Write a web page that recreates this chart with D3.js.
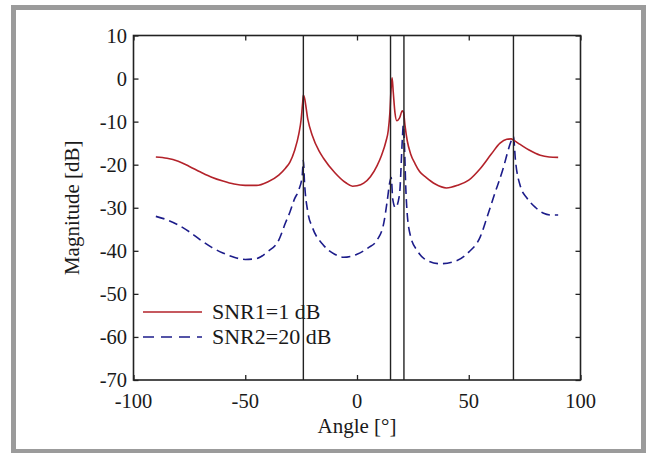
<!DOCTYPE html>
<html>
<head>
<meta charset="utf-8">
<script src="https://cdn.jsdelivr.net/npm/d3@7"></script>
<style>
  body { margin: 0; background: #fff; }
  svg text { font-family: "Liberation Serif", "Times New Roman", serif; fill: #1a1a1a; }
</style>
</head>
<body>
<div id="container"></div>
<script>
// spectrum: [angle, dB]
var snr1 = [[-90,-18.2],[-85,-18.5],[-80,-19.2],[-75,-20.4],[-70,-21.7],[-65,-22.9],[-60,-23.8],[-55,-24.5],
  [-50,-24.8],[-45,-24.8],[-40,-24.0],[-35,-22.4],[-32,-20.8],[-30,-19.4],[-28,-16.8],[-26,-12.8],[-25,-9.5],
  [-24.3,-5.5],[-24,-3.8],[-23.5,-4.5],[-22,-9.5],[-20,-13.2],[-17,-16.8],[-15,-18.5],[-10,-21.8],[-5,-24.2],
  [-2,-25.0],[0,-24.9],[3,-24.3],[6,-22.8],[9,-20.2],[11,-17.8],[13,-14.5],[14,-12],[14.7,-8],[15.3,-2],
  [15.7,0.2],[16.2,-3],[17,-8],[17.8,-9.8],[19,-9.2],[20.3,-7.5],[20.8,-7.8],[21.5,-11],[22.5,-14.5],
  [24,-17.5],[26,-19.8],[28,-21.6],[31,-23],[35,-24.5],[40,-25.4],[45,-24.8],[50,-23.6],[55,-21],[60,-17.6],
  [64,-15],[67,-14.1],[69,-14],[70,-14.3],[73,-15.3],[77,-16.6],[82,-17.8],[86,-18.2],[90,-18.3]];

var snr2 = [[-90,-32],[-85,-32.8],[-80,-34],[-75,-35.6],[-70,-37.5],[-65,-39.2],[-60,-40.5],[-55,-41.5],
  [-50,-42],[-45,-41.8],[-40,-40.2],[-35,-37.5],[-32,-33.5],[-30,-31],[-28,-28],[-26,-25.8],[-24.5,-22.5],
  [-24,-19],[-23.5,-24],[-22,-31],[-20,-34.5],[-15,-38.7],[-10,-40.8],[-6,-41.5],[0,-40.8],[5,-39.3],
  [9,-37.5],[12,-33.5],[13.5,-28.5],[14.7,-24],[15.3,-23],[16,-28],[17.2,-30],[19,-27],[20.3,-14],[20.7,-10.8],
  [21.2,-15],[21.8,-25],[22.4,-31],[24,-36.7],[27,-40],[30,-41.8],[37,-43],[45,-42.2],[50,-40.3],
  [55.2,-36.7],[58,-32.5],[61.2,-27.4],[65.6,-20.5],[68,-16],[69.4,-14],[70,-13.5],[70.9,-19],[73.1,-25],
  [76.1,-27.8],[80,-30],[83.5,-31.3],[87,-31.7],[90,-31.7]];

var doaLines = [-24, 15, 21, 70];
var xTicks = [-100, -50, 0, 50, 100];
var yTicks = [10, 0, -10, -20, -30, -40, -50, -60, -70];
var legendLabels = ["SNR1=1 dB", "SNR2=20 dB"];

var w = 646, h = 453;
var svg = d3.select("div#container").append("svg")
  .attr("width", w).attr("height", h);

// gray frame around the figure
svg.append("rect")
  .attr("x", 13.5).attr("y", 7.5)
  .attr("width", 630).attr("height", 444)
  .attr("fill", "none").attr("stroke", "#9b9b9b").attr("stroke-width", 5);

var x = d3.scaleLinear().domain([-100, 100]).range([133.5, 580.5]);
var y = d3.scaleLinear().domain([-70, 10]).range([380, 35.5]);

// tick marks pointing inward on all four sides
var g = svg.append("g");
g.append("g").attr("transform", "translate(0," + y(-70) + ")")
  .call(d3.axisTop(x).tickValues(xTicks).tickSize(5).tickFormat(""));
g.append("g").attr("transform", "translate(0," + y(10) + ")")
  .call(d3.axisBottom(x).tickValues(xTicks).tickSize(5).tickFormat(""));
g.append("g").attr("transform", "translate(" + x(-100) + ",0)")
  .call(d3.axisRight(y).tickValues(yTicks).tickSize(5).tickFormat(""));
g.append("g").attr("transform", "translate(" + x(100) + ",0)")
  .call(d3.axisLeft(y).tickValues(yTicks).tickSize(5).tickFormat(""));
g.selectAll(".domain").remove();
g.selectAll("line").attr("stroke", "#222").attr("stroke-width", 1.3);

// tick labels
svg.append("g").selectAll("text").data(xTicks).enter().append("text")
  .attr("x", function(d) { return x(d); })
  .attr("y", 408)
  .attr("text-anchor", "middle")
  .attr("font-size", 20.5)
  .text(function(d) { return d; });

svg.append("g").selectAll("text").data(yTicks).enter().append("text")
  .attr("x", 127)
  .attr("y", function(d) { return y(d) + 7; })
  .attr("text-anchor", "end")
  .attr("font-size", 20.5)
  .text(function(d) { return d; });

svg.append("text")
  .attr("x", x(0)).attr("y", 433)
  .attr("text-anchor", "middle").attr("font-size", 21)
  .text("Angle [°]");

svg.append("text")
  .attr("transform", "translate(79," + ((y(10) + y(-70)) / 2) + ") rotate(-90)")
  .attr("text-anchor", "middle").attr("font-size", 21)
  .text("Magnitude [dB]");

// spectra
var line = d3.line()
  .x(function(d) { return x(d[0]); })
  .y(function(d) { return y(d[1]); })
  .curve(d3.curveMonotoneX);

svg.append("path").datum(snr2)
  .attr("d", line).attr("fill", "none")
  .attr("stroke", "#1c1c8a").attr("stroke-width", 1.6)
  .attr("stroke-dasharray", "9,5");

svg.append("path").datum(snr1)
  .attr("d", line).attr("fill", "none")
  .attr("stroke", "#b3222a").attr("stroke-width", 1.6);

// true directions
svg.append("g").selectAll("line").data(doaLines).enter().append("line")
  .attr("x1", function(d) { return x(d); })
  .attr("x2", function(d) { return x(d); })
  .attr("y1", y(10)).attr("y2", y(-70))
  .attr("stroke", "#222").attr("stroke-width", 1.4);

// plot box
svg.append("rect")
  .attr("x", x(-100)).attr("y", y(10))
  .attr("width", x(100) - x(-100)).attr("height", y(-70) - y(10))
  .attr("fill", "none").attr("stroke", "#222").attr("stroke-width", 1.6);

// legend
var leg = svg.append("g").selectAll("g").data(legendLabels).enter().append("g")
  .attr("transform", function(d, i) { return "translate(143," + (312 + i * 25) + ")"; });
leg.append("line")
  .attr("x1", 0).attr("x2", 59)
  .attr("stroke", function(d, i) { return i ? "#1c1c8a" : "#b3222a"; })
  .attr("stroke-width", 1.6)
  .attr("stroke-dasharray", function(d, i) { return i ? "11,7" : null; });
leg.append("text")
  .attr("x", 69).attr("y", 7)
  .attr("font-size", 22)
  .text(function(d) { return d; });
</script>
</body>
</html>
